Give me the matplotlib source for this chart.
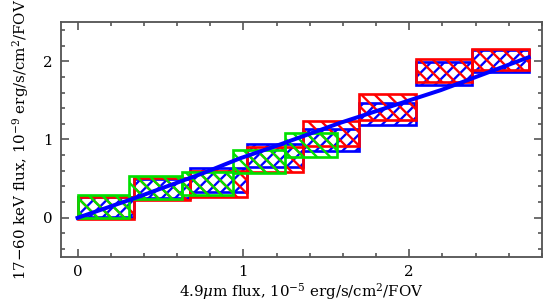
import numpy as np
import matplotlib
matplotlib.use('Agg')
import matplotlib.pyplot as plt
from matplotlib.ticker import MultipleLocator

plt.rcParams['font.family'] = 'DejaVu Serif'
plt.rcParams['mathtext.fontset'] = 'dejavuserif'
plt.rcParams['hatch.linewidth'] = 1.4

# bins of the three estimates (x: 4.9um flux, y: 17-60 keV flux range)
red_edges = [0.0, 0.34, 0.68, 1.02, 1.36, 1.70, 2.04, 2.38, 2.72]
red_lo = [-0.02, 0.23, 0.27, 0.59, 0.92, 1.25, 1.74, 1.885]
red_hi = [0.27, 0.505, 0.60, 0.91, 1.24, 1.58, 2.03, 2.15]

blue_edges = [0.0, 0.34, 0.68, 1.02, 1.36, 1.70, 2.04, 2.38, 2.72]
blue_lo = [0.01, 0.25, 0.335, 0.65, 0.85, 1.18, 1.69, 1.86]
blue_hi = [0.26, 0.50, 0.63, 0.94, 1.13, 1.47, 1.99, 2.14]

green_edges = [0.0, 0.313, 0.627, 0.94, 1.253, 1.567]
green_lo = [0.0, 0.245, 0.29, 0.575, 0.78]
green_hi = [0.29, 0.54, 0.58, 0.87, 1.08]

# fitted relation
line_x = [0.0, 0.356, 0.757, 0.98, 1.16, 1.58, 2.19, 2.72]
line_y = [0.0, 0.26, 0.57, 0.76, 0.89, 1.21, 1.63, 2.05]


def draw_boxes(ax, edges, lo, hi, color, hatch):
    edges = np.array(edges)
    lo = np.array(lo)
    hi = np.array(hi)
    ax.bar(edges[:-1], hi - lo, width=np.diff(edges), bottom=lo, align='edge',
           facecolor='none', edgecolor=color, hatch=hatch, linewidth=1.6)


fig = plt.figure(figsize=(543 / 120, 301 / 120), dpi=120)
ax = fig.add_axes([0.1123, 0.1462, 0.8857, 0.7807])

draw_boxes(ax, blue_edges, blue_lo, blue_hi, '#0000ff', '///')
draw_boxes(ax, red_edges, red_lo, red_hi, '#ff0000', '\\\\\\')
draw_boxes(ax, green_edges, green_lo, green_hi, '#00e000', '\\\\\\')
ax.plot(line_x, line_y, color='#0000ff', linewidth=2.4)

ax.set_xlim(-0.1, 2.8)
ax.set_ylim(-0.5, 2.5)
ax.xaxis.set_major_locator(MultipleLocator(1))
ax.xaxis.set_minor_locator(MultipleLocator(0.2))
ax.yaxis.set_major_locator(MultipleLocator(1))
ax.yaxis.set_minor_locator(MultipleLocator(0.2))
ax.tick_params(which='both', direction='in', top=True, right=True,
               color='#555555', width=1.0, labelsize=9, pad=5)
ax.tick_params(which='major', length=4.8)
ax.tick_params(which='minor', length=2.4)
for s in ax.spines.values():
    s.set_color('#555555')
    s.set_linewidth(1.1)

ax.set_xlabel(r'4.9$\mu$m flux, 10$^{-5}$ erg/s/cm$^2$/FOV', fontsize=9, labelpad=1)
ax.set_ylabel(r'17$-$60 keV flux, 10$^{-9}$ erg/s/cm$^2$/FOV', fontsize=9, labelpad=7)

fig.savefig('out.png', dpi=120)
